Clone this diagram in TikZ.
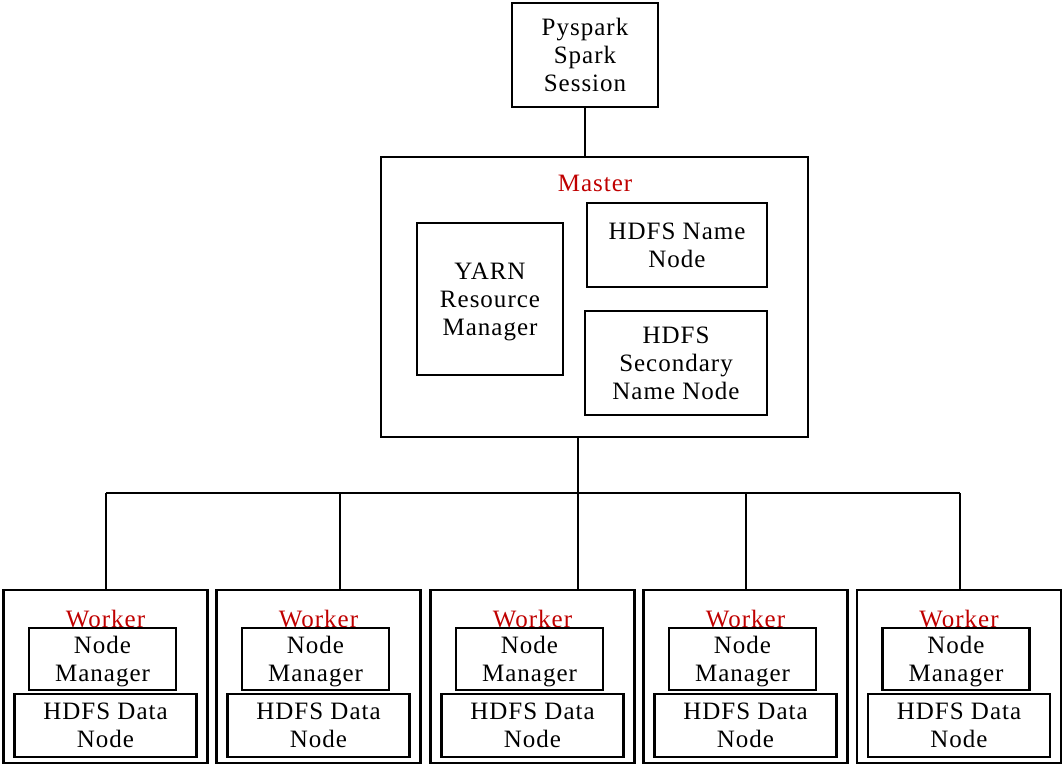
\documentclass[tikz,border=0pt]{standalone}
\usepackage{fontspec}
\setmainfont{Liberation Serif}[LetterSpace=4]
\definecolor{labelred}{RGB}{192,0,0}
\begin{document}
\begin{tikzpicture}[x=0.75pt,y=-0.75pt,
  txt/.style={font=\fontsize{18.75}{21}\selectfont},
  box/.style={txt, draw, line width=1.7pt, fill=white, align=center, inner sep=0pt, text depth=0pt},
  wh/.style 2 args={minimum width=#1*0.75pt, minimum height=#2*0.75pt},
  tag/.style={txt, text=labelred, anchor=base, inner sep=0pt},
  wire/.style={line width=1.6pt}]
\useasboundingbox (0,0) rectangle (1062,765);

% client session
\node[box, wh={146}{104}] (spark) at (585,55) {Pyspark\\Spark\\Session};

% master node and its services
\node[box, wh={427}{280}] (master) at (594.5,297) {};
\node[tag] (mlabel) at (595,191) {Master};
\node[box, wh={146}{152}] (yarn) at (490,299) {YARN\\Resource\\Manager};
\node[box, wh={180}{84}] (nn) at (677,245) {HDFS Name\\Node};
\node[box, wh={182}{104}] (snn) at (676,363) {HDFS\\Secondary\\Name Node};

\draw[wire] (spark.south) -- (spark.south |- master.north);

% bus to the workers
\coordinate (mdrop) at (578,493);
\coordinate (busL) at (106,493);
\coordinate (busR) at (960,493);
\draw[wire] (master.south -| mdrop) -- (mdrop);
\draw[wire] (busL) -- (busR);

% worker nodes
\foreach \i/\cx/\dx in {1/105.5/106, 2/318.5/340, 3/532.5/578, 4/745.5/746, 5/959/960}{
  \node[box, wh={204}{173}] (w\i) at (\cx,676.5) {};
  \node[tag] (wl\i) at (\cx,627) {Worker};
  \node[box, wh={147}{62}] (nm\i) at (\cx-3,659) {Node\\Manager};
  \node[box, wh={182}{63}] (dn\i) at (\cx,725.5) {HDFS Data\\Node};
  \coordinate (b\i) at (\dx,493);
  \draw[wire] (b\i) -- (b\i |- w\i.north);
}
\end{tikzpicture}
\end{document}
